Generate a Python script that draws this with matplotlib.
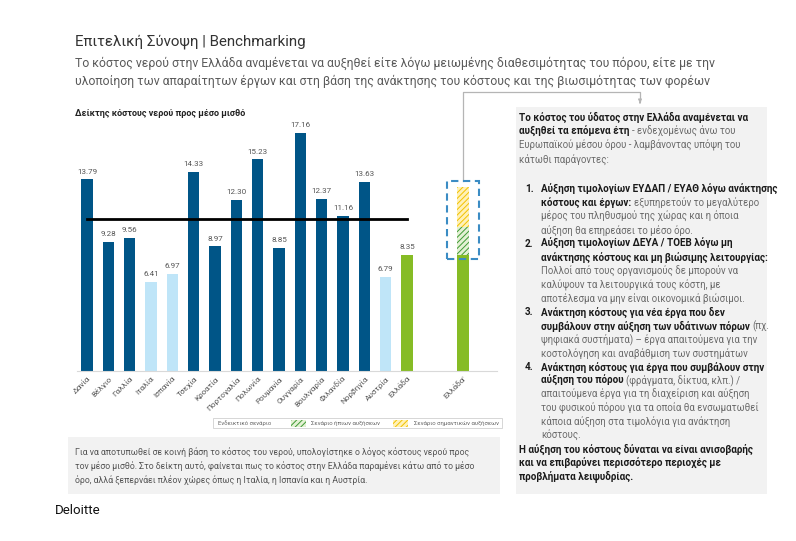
import matplotlib
matplotlib.use("Agg")
import matplotlib.pyplot as plt
from matplotlib.patches import Rectangle
import numpy as np

plt.rcParams["font.family"] = ["Roboto", "Noto Sans", "DejaVu Sans"]
plt.rcParams["hatch.linewidth"] = 0.7

W, H = 796, 541

# --- data -------------------------------------------------------------------
countries = ["Δανία", "Βέλγιο", "Γαλλία", "Ιταλία", "Ισπανία", "Τσεχία", "Κροατία",
             "Πορτογαλία", "Πολωνία", "Ρουμανία", "Ουγγαρία", "Βουλγαρία", "Φιλανδία",
             "Νορβηγία", "Αυστρία", "Ελλάδα"]
index_values = [13.79, 9.28, 9.56, 6.41, 6.97, 14.33, 8.97, 12.30, 15.23, 8.85,
                17.16, 12.37, 11.16, 13.63, 6.79, 8.35]
bar_group = ["dark", "dark", "dark", "light", "light", "dark", "dark", "dark", "dark",
             "dark", "dark", "dark", "dark", "dark", "light", "greece"]
eu_average = 10.95

scenario_label = "Ελλάδα'"
scenario_base = 8.35
scenario_mild = 2.0
scenario_significant = 2.9

legend_labels = ["Ενδεικτικό σενάριο", "Σενάριο ήπιων αυξήσεων", "Σενάριο σημαντικών αυξήσεων"]

title = "Επιτελική Σύνοψη | Benchmarking"
subtitle = ["Το κόστος νερού στην Ελλάδα αναμένεται να αυξηθεί είτε λόγω μειωμένης διαθεσιμότητας του πόρου, είτε με την",
            "υλοποίηση των απαραίτητων έργων και στη βάση της ανάκτησης του κόστους και της βιωσιμότητας των φορέων"]
chart_title = "Δείκτης κόστους νερού προς μέσο μισθό"
note_lines = ["Για να αποτυπωθεί σε κοινή βάση το κόστος του νερού, υπολογίστηκε ο λόγος κόστους νερού προς",
              "τον μέσο μισθό. Στο δείκτη αυτό, φαίνεται πως το κόστος στην Ελλάδα παραμένει κάτω από το μέσο",
              "όρο, αλλά ξεπερνάει πλέον χώρες όπως η Ιταλία, η Ισπανία και η Αυστρία."]

intro = [
    [("Το κόστος του ύδατος στην Ελλάδα αναμένεται να", True)],
    [("αυξηθεί τα επόμενα έτη ", True), ("- ενδεχομένως άνω του", False)],
    [("Ευρωπαϊκού μέσου όρου - λαμβάνοντας υπόψη του", False)],
    [("κάτωθι παράγοντες:", False)],
]
items = [
    ("1.", [[("Αύξηση τιμολογίων ΕΥΔΑΠ / ΕΥΑΘ λόγω ανάκτησης", True)],
            [("κόστους και έργων: ", True), ("εξυπηρετούν το μεγαλύτερο", False)],
            [("μέρος του πληθυσμού της χώρας και η όποια", False)],
            [("αύξηση θα επηρεάσει το μέσο όρο.", False)]]),
    ("2.", [[("Αύξηση τιμολογίων ΔΕΥΑ / ΤΟΕΒ λόγω μη", True)],
            [("ανάκτησης κόστους και μη βιώσιμης λειτουργίας:", True)],
            [("Πολλοί από τους οργανισμούς δε μπορούν να", False)],
            [("καλύψουν τα λειτουργικά τους κόστη, με", False)],
            [("αποτέλεσμα να μην είναι οικονομικά βιώσιμοι.", False)]]),
    ("3.", [[("Ανάκτηση κόστους για νέα έργα που δεν", True)],
            [("συμβάλουν στην αύξηση των υδάτινων πόρων ", True), ("(πχ.", False)],
            [("ψηφιακά συστήματα) – έργα απαιτούμενα για την", False)],
            [("κοστολόγηση και αναβάθμιση των συστημάτων", False)]]),
    ("4.", [[("Ανάκτηση κόστους για έργα που συμβάλουν στην", True)],
            [("αύξηση του πόρου ", True), ("(φράγματα, δίκτυα, κλπ.) /", False)],
            [("απαιτούμενα έργα για τη διαχείριση και αύξηση", False)],
            [("του φυσικού πόρου για τα οποία θα ενσωματωθεί", False)],
            [("κάποια αύξηση στα τιμολόγια για ανάκτηση", False)],
            [("κόστους.", False)]]),
]
outro = ["Η αύξηση του κόστους δύναται να είναι ανισοβαρής",
         "και να επιβαρύνει περισσότερο περιοχές με",
         "προβλήματα λειψυδρίας."]

# --- style ------------------------------------------------------------------
DARK = "#005587"
LIGHT = "#BFE5F8"
GREEN = "#86BC25"
GROUP_COLORS = {"dark": DARK, "light": LIGHT, "greece": GREEN}
MILD = dict(facecolor="#E4F1D4", edgecolor="#3E9A35", hatch="//////", linewidth=0)
SIGNIF = dict(facecolor="#FFF1B8", edgecolor="#F2C200", hatch="//////", linewidth=0)
BOLD_C = "#1a1a1a"
REG_C = "#6b6b6b"
FS_BOLD = 7.1
FS_REG = 6.9

fig = plt.figure(figsize=(W / 100, H / 100), dpi=100)
renderer = fig.canvas.get_renderer()

# overlay in pixel coordinates for boxes and text
ov = fig.add_axes([0, 0, 1, 1])
ov.set_xlim(0, W)
ov.set_ylim(H, 0)
ov.axis("off")


def px_axes(left, top, right, bottom):
    return fig.add_axes([left / W, 1 - bottom / H, (right - left) / W, (bottom - top) / H])


def rich_line(x0, y, parts):
    xpos = x0
    for txt, bold in parts:
        fs = FS_BOLD if bold else FS_REG
        space = fs * 100 / 72 * 0.25
        if txt.startswith(" "):
            xpos += space
        t = ov.text(xpos, y, txt.strip(), fontsize=fs, va="center", ha="left",
                    fontweight="bold" if bold else "normal",
                    color=BOLD_C if bold else REG_C)
        xpos += t.get_window_extent(renderer).width
        if txt.endswith(" "):
            xpos += space


# header
ov.text(75, 42, title, fontsize=10.8, color="#333333", va="center")
for i, line in enumerate(subtitle):
    ov.text(75, 63 + 18 * i, line, fontsize=8.85, color="#5a5a5a", va="center")

# grey boxes
ov.add_patch(Rectangle((516, 107), 251, 387, facecolor="#F2F2F2", edgecolor="none"))
ov.add_patch(Rectangle((68, 437), 432, 57, facecolor="#F2F2F2", edgecolor="none"))

# --- chart --------------------------------------------------------------------
ov.text(75, 113, chart_title, fontsize=6.5, color="#222222", va="center", fontweight="semibold")

ax = px_axes(77, 107, 497, 371)
ax.patch.set_alpha(0)
x = np.arange(len(countries))
ax.bar(x, index_values, width=0.52, color=[GROUP_COLORS[g] for g in bar_group])
for xi, v in zip(x, index_values):
    ax.annotate(f"{v:.2f}", (xi, v), xytext=(0, 3.5), textcoords="offset points",
                ha="center", va="bottom", fontsize=5.8, color="#555555")
ax.plot([x[0], x[-1]], [eu_average, eu_average], color="black", lw=2)

sx = 17.63
ax.bar(sx, scenario_base, width=0.56, color=GREEN)
ax.bar(sx, scenario_mild, bottom=scenario_base, width=0.56, **MILD)
top = scenario_base + scenario_mild + scenario_significant
ax.bar(sx, scenario_significant, bottom=scenario_base + scenario_mild, width=0.56, **SIGNIF)
box_lo, box_hi = scenario_base - 0.3, top + 0.45
ax.add_patch(Rectangle((sx - 0.75, box_lo), 1.5, box_hi - box_lo, fill=False,
                       edgecolor="#3B8CC4", lw=1.5, ls=(0, (3.5, 2.2)), clip_on=False))

ax.set_xlim(-0.47, 19.22)
ax.set_ylim(0, 19)
ax.set_xticks(list(x) + [sx])
ax.set_xticklabels(countries + [scenario_label], rotation=45, ha="right",
                   rotation_mode="anchor", fontsize=5.9, color="#555555")
ax.tick_params(axis="x", length=0, pad=3)
ax.set_yticks([])
for s in ["top", "right", "left"]:
    ax.spines[s].set_visible(False)
ax.spines["bottom"].set_color("#D9D9D9")
ax.spines["bottom"].set_linewidth(0.8)

# connector from the scenario box to the text box
bx, by = ax.transData.transform((sx, box_hi))
by = H - by
ov.plot([bx, bx, 640, 640], [by, 92, 92, 101], color="#B5B5B5", lw=0.9)
ov.annotate("", xy=(640, 106), xytext=(640, 100),
            arrowprops=dict(arrowstyle="-|>", color="#B5B5B5", lw=0.9, mutation_scale=5))

# legend
ov.add_patch(Rectangle((213, 418), 289, 10, facecolor="white", edgecolor="#D0D0D0", lw=0.6))
ov.text(218, 423, legend_labels[0], fontsize=4.3, color="#666666", va="center")
ov.add_patch(Rectangle((291, 419.5), 15, 7, **MILD))
ov.text(311, 423, legend_labels[1], fontsize=4.3, color="#666666", va="center")
ov.add_patch(Rectangle((393, 419.5), 15, 7, **SIGNIF))
ov.text(414, 423, legend_labels[2], fontsize=4.3, color="#666666", va="center")

# --- right text box -------------------------------------------------------
y = 117
for parts in intro:
    rich_line(519, y, parts)
    y += 14.4
y = 189
for num, lines in items:
    ov.text(525, y, num, fontsize=FS_BOLD, fontweight="bold", color=BOLD_C, va="center")
    for parts in lines:
        rich_line(541, y, parts)
        y += 13.7
for line in outro:
    rich_line(519, y, [(line, True)])
    y += 13.7

# bottom note
for i, line in enumerate(note_lines):
    ov.text(75, 452 + 14 * i, line, fontsize=6.35, color="#555555", va="center")

ov.text(55, 510, "Deloitte", fontsize=9.5, color="#111111", va="center")

fig.savefig("out.png", dpi=100)
